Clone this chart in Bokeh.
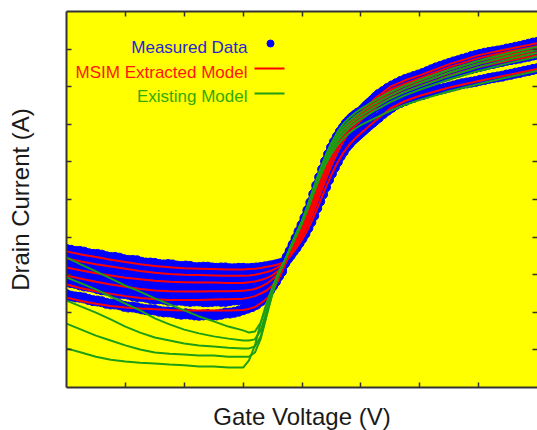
from bokeh.plotting import figure
from bokeh.models import FixedTicker, LinearAxis, Label
from bokeh.embed import file_html
from bokeh.resources import INLINE

# ---------------- data (arbitrary linear units, no tick labels in the original) ----------------
X_TICKS = [1, 2, 3, 4, 5, 6, 7]
Y_TICKS = [1, 2, 3, 4, 5, 6, 7, 8, 9]
X_LABEL = "Gate Voltage (V)"
Y_LABEL = "Drain Current (A)"

VG_MEAS = [0.0, 0.075, 0.15, 0.225, 0.3, 0.375, 0.45, 0.525, 0.6, 0.675, 0.75, 0.825, 0.9, 0.975, 1.05, 1.125, 1.2,
           1.275, 1.35, 1.425, 1.5, 1.575, 1.65, 1.725, 1.8, 1.875, 1.95, 2.025, 2.1, 2.175, 2.25, 2.325, 2.4, 2.475,
           2.55, 2.625, 2.7, 2.775, 2.85, 2.925, 3.0,
           3.075, 3.15, 3.225, 3.3, 3.375, 3.45, 3.5, 3.55, 3.6, 3.65,
           3.7, 3.75, 3.8, 3.85, 3.9, 3.95, 4.0, 4.05, 4.1, 4.15, 4.2, 4.25, 4.3, 4.35, 4.4, 4.45, 4.5, 4.55, 4.6, 4.65,
           4.7, 4.75, 4.8, 4.85, 4.9, 4.95,
           5.0, 5.05, 5.1, 5.15, 5.2, 5.25, 5.3, 5.375, 5.45, 5.525, 5.6, 5.675, 5.75, 5.825, 5.9, 5.975, 6.05, 6.125,
           6.2, 6.275, 6.35, 6.425, 6.5, 6.575, 6.65, 6.725, 6.8, 6.875, 6.95, 7.025, 7.1, 7.175, 7.25, 7.325, 7.4,
           7.475, 7.55, 7.625, 7.7, 7.775, 7.85, 7.925, 8.0]

MEAS_T1 = [3.67, 3.65, 3.62, 3.62, 3.60, 3.56, 3.54, 3.54, 3.52, 3.48, 3.46, 3.46, 3.44, 3.40, 3.38, 3.38, 3.37, 3.33, 3.31, 3.31,
           3.30, 3.27, 3.26, 3.27, 3.26, 3.23, 3.22, 3.23, 3.22, 3.19, 3.19, 3.20, 3.20, 3.18, 3.17, 3.18, 3.18, 3.16, 3.16, 3.17, 3.17,
           3.16, 3.17, 3.18, 3.19, 3.21, 3.23, 3.24, 3.26, 3.28, 3.30,
           3.32, 3.41, 3.51, 3.62, 3.72, 3.84, 3.96, 4.09, 4.24, 4.40, 4.57, 4.77, 4.95, 5.14, 5.33, 5.52, 5.69, 5.85, 6.00, 6.15,
           6.27, 6.39, 6.48, 6.57, 6.64, 6.71,
           6.78, 6.85, 6.92, 6.99, 7.05, 7.12, 7.18, 7.28, 7.37, 7.45, 7.53, 7.58, 7.63, 7.68, 7.72, 7.76, 7.79, 7.83, 7.87, 7.90,
           7.93, 7.96, 7.99, 8.02, 8.05, 8.08, 8.10, 8.12, 8.14, 8.17, 8.19, 8.22, 8.24, 8.26, 8.28, 8.31, 8.33, 8.36, 8.38, 8.41,
           8.43, 8.46, 8.48]
MEAS_T2 = [3.46, 3.43, 3.41, 3.40, 3.38, 3.34, 3.32, 3.31, 3.30, 3.26, 3.24, 3.23, 3.22, 3.19, 3.17, 3.16, 3.15, 3.12, 3.10, 3.10,
           3.09, 3.06, 3.04, 3.05, 3.04, 3.01, 3.00, 3.01, 3.00, 2.98, 2.97, 2.98, 2.98, 2.96, 2.95, 2.96, 2.96, 2.94, 2.94, 2.95, 2.96,
           2.96, 2.96, 2.97, 2.99, 3.02, 3.06, 3.09, 3.13, 3.17, 3.22,
           3.32, 3.43, 3.54, 3.66, 3.78, 3.92, 4.05, 4.20, 4.36, 4.54, 4.72, 4.93, 5.13, 5.34, 5.54, 5.74, 5.93, 6.11, 6.27, 6.43,
           6.57, 6.70, 6.81, 6.91, 6.99, 7.07,
           7.14, 7.21, 7.28, 7.35, 7.41, 7.47, 7.53, 7.60, 7.67, 7.73, 7.79, 7.84, 7.89, 7.93, 7.97, 8.01, 8.05, 8.10, 8.14, 8.19,
           8.24, 8.28, 8.31, 8.35, 8.38, 8.42, 8.45, 8.48, 8.51, 8.54, 8.57, 8.60, 8.62, 8.65, 8.67, 8.70, 8.72, 8.74, 8.76, 8.79,
           8.81, 8.84, 8.86]
MEAS_T3 = [3.24, 3.21, 3.20, 3.16, 3.14, 3.13, 3.11, 3.07, 3.05, 3.05, 3.03, 2.99, 2.97, 2.97, 2.95, 2.92, 2.90, 2.90, 2.88, 2.85,
           2.83, 2.84, 2.83, 2.80, 2.79, 2.80, 2.79, 2.77, 2.76, 2.77, 2.77, 2.75, 2.74, 2.75, 2.75, 2.73, 2.73, 2.74, 2.75, 2.73, 2.74,
           2.75, 2.77, 2.79, 2.82, 2.87, 2.93, 2.98, 3.03, 3.09, 3.16,
           3.31, 3.44, 3.56, 3.70, 3.83, 3.98, 4.12, 4.28, 4.45, 4.64, 4.83, 5.05, 5.25, 5.46, 5.67, 5.87, 6.06, 6.23, 6.39, 6.55,
           6.68, 6.80, 6.90, 6.99, 7.07, 7.14,
           7.21, 7.28, 7.35, 7.42, 7.48, 7.54, 7.60, 7.68, 7.75, 7.81, 7.87, 7.92, 7.97, 8.01, 8.05, 8.09, 8.13, 8.17, 8.22, 8.27,
           8.32, 8.36, 8.39, 8.43, 8.46, 8.50, 8.53, 8.56, 8.59, 8.62, 8.65, 8.68, 8.70, 8.73, 8.75, 8.78, 8.80, 8.82, 8.84, 8.87,
           8.89, 8.92, 8.94]
MEAS_T4 = [3.03, 3.00, 2.97, 2.96, 2.94, 2.90, 2.87, 2.86, 2.85, 2.81, 2.78, 2.78, 2.76, 2.72, 2.70, 2.70, 2.68, 2.64, 2.62, 2.62,
           2.61, 2.58, 2.57, 2.58, 2.57, 2.55, 2.54, 2.55, 2.55, 2.53, 2.52, 2.53, 2.53, 2.51, 2.51, 2.52, 2.53, 2.51, 2.52, 2.54, 2.55,
           2.55, 2.57, 2.60, 2.64, 2.71, 2.79, 2.86, 2.93, 3.02, 3.11,
           3.31, 3.45, 3.58, 3.73, 3.87, 4.03, 4.18, 4.35, 4.53, 4.73, 4.93, 5.15, 5.36, 5.57, 5.78, 5.98, 6.17, 6.34, 6.49, 6.64,
           6.76, 6.88, 6.97, 7.06, 7.13, 7.20,
           7.26, 7.34, 7.41, 7.48, 7.54, 7.60, 7.66, 7.74, 7.82, 7.88, 7.94, 7.99, 8.04, 8.08, 8.12, 8.16, 8.20, 8.25, 8.30, 8.35,
           8.40, 8.44, 8.47, 8.51, 8.54, 8.58, 8.61, 8.64, 8.67, 8.70, 8.73, 8.76, 8.78, 8.81, 8.83, 8.85, 8.87, 8.90, 8.92, 8.95,
           8.97, 9.00, 9.02]
MEAS_T5 = [2.82, 2.79, 2.77, 2.73, 2.70, 2.69, 2.67, 2.63, 2.60, 2.59, 2.57, 2.53, 2.50, 2.50, 2.48, 2.44, 2.42, 2.42, 2.40, 2.37,
           2.35, 2.36, 2.35, 2.32, 2.31, 2.32, 2.32, 2.30, 2.29, 2.30, 2.30, 2.28, 2.28, 2.29, 2.30, 2.29, 2.29, 2.31, 2.33, 2.33, 2.34,
           2.36, 2.40, 2.44, 2.50, 2.59, 2.69, 2.77, 2.86, 2.97, 3.08,
           3.30, 3.46, 3.60, 3.76, 3.91, 4.08, 4.24, 4.42, 4.61, 4.81, 5.02, 5.25, 5.46, 5.67, 5.88, 6.08, 6.26, 6.42, 6.57, 6.71,
           6.83, 6.94, 7.03, 7.11, 7.18, 7.25,
           7.31, 7.39, 7.46, 7.53, 7.59, 7.66, 7.72, 7.80, 7.88, 7.94, 8.00, 8.05, 8.10, 8.14, 8.18, 8.22, 8.26, 8.31, 8.36, 8.41,
           8.46, 8.50, 8.54, 8.58, 8.61, 8.65, 8.68, 8.72, 8.75, 8.78, 8.81, 8.84, 8.86, 8.88, 8.90, 8.93, 8.95, 8.98, 9.00, 9.03,
           9.05, 9.08, 9.10]
MEAS_T6 = [2.47, 2.43, 2.41, 2.40, 2.38, 2.34, 2.31, 2.30, 2.28, 2.24, 2.22, 2.22, 2.20, 2.16, 2.14, 2.14, 2.12, 2.09, 2.07, 2.07,
           2.06, 2.03, 2.01, 2.01, 2.00, 1.97, 1.95, 1.96, 1.95, 1.93, 1.92, 1.93, 1.94, 1.92, 1.93, 1.95, 1.98, 1.98, 2.00, 2.03, 2.07,
           2.11, 2.15, 2.21, 2.30, 2.43, 2.58, 2.70, 2.82, 2.96, 3.10,
           3.30, 3.47, 3.63, 3.80, 3.97, 4.15, 4.32, 4.51, 4.71, 4.92, 5.14, 5.37, 5.59, 5.80, 6.01, 6.20, 6.38, 6.53, 6.67, 6.80,
           6.91, 7.02, 7.10, 7.18, 7.24, 7.30,
           7.34, 7.42, 7.50, 7.57, 7.64, 7.72, 7.79, 7.87, 7.95, 8.02, 8.08, 8.14, 8.19, 8.23, 8.27, 8.31, 8.35, 8.40, 8.45, 8.50,
           8.54, 8.58, 8.62, 8.66, 8.69, 8.73, 8.76, 8.80, 8.83, 8.86, 8.89, 8.91, 8.93, 8.95, 8.97, 9.00, 9.02, 9.05, 9.07, 9.10,
           9.13, 9.16, 9.18]

VG_MODEL = [0.0, 0.25, 0.5, 0.75, 1.0, 1.25, 1.5, 1.75, 2.0, 2.25, 2.5, 2.75, 3.0,
            3.1, 3.2, 3.3, 3.4, 3.5, 3.6, 3.7,
            3.8, 3.9, 4.0, 4.1, 4.2, 4.3, 4.4, 4.5, 4.6, 4.7, 4.8, 4.9, 5.0,
            5.25, 5.5, 5.75, 6.0, 6.5, 7.0, 7.5, 8.0]

MSIM_T1 = [3.62, 3.54, 3.47, 3.40, 3.34, 3.28, 3.23, 3.20, 3.17, 3.16, 3.15, 3.14, 3.14,
           3.15, 3.16, 3.18, 3.21, 3.24, 3.28, 3.33,
           3.49, 3.70, 3.93, 4.21, 4.54, 4.92, 5.30, 5.66, 5.97, 6.24, 6.45, 6.62, 6.76,
           7.10, 7.42, 7.62, 7.76, 7.98, 8.15, 8.31, 8.47]
MSIM_T2 = [3.43, 3.35, 3.28, 3.22, 3.16, 3.10, 3.05, 3.02, 3.00, 2.99, 2.98, 2.97, 2.97,
           2.98, 3.00, 3.03, 3.07, 3.12, 3.20, 3.31,
           3.52, 3.76, 4.02, 4.33, 4.69, 5.10, 5.51, 5.90, 6.24, 6.54, 6.78, 6.96, 7.11,
           7.45, 7.70, 7.87, 8.01, 8.29, 8.52, 8.69, 8.84]
MSIM_T3 = [3.19, 3.11, 3.04, 2.98, 2.92, 2.88, 2.84, 2.81, 2.80, 2.79, 2.79, 2.78, 2.78,
           2.80, 2.82, 2.86, 2.91, 2.99, 3.11, 3.28,
           3.54, 3.80, 4.09, 4.42, 4.80, 5.22, 5.64, 6.03, 6.36, 6.65, 6.87, 7.04, 7.18,
           7.52, 7.78, 7.95, 8.09, 8.37, 8.60, 8.77, 8.92]
MSIM_T4 = [2.98, 2.89, 2.81, 2.74, 2.68, 2.62, 2.58, 2.56, 2.55, 2.55, 2.56, 2.56, 2.57,
           2.59, 2.62, 2.68, 2.76, 2.88, 3.04, 3.26,
           3.56, 3.84, 4.15, 4.50, 4.90, 5.33, 5.75, 6.14, 6.46, 6.73, 6.94, 7.10, 7.23,
           7.58, 7.85, 8.02, 8.16, 8.45, 8.68, 8.85, 9.00]
MSIM_T5 = [2.74, 2.64, 2.56, 2.49, 2.43, 2.38, 2.35, 2.33, 2.33, 2.33, 2.34, 2.35, 2.36,
           2.39, 2.43, 2.50, 2.58, 2.72, 2.96, 3.24,
           3.58, 3.88, 4.21, 4.58, 4.99, 5.43, 5.85, 6.23, 6.54, 6.80, 7.00, 7.15, 7.28,
           7.64, 7.92, 8.08, 8.22, 8.52, 8.76, 8.93, 9.08]
MSIM_T6 = [2.39, 2.30, 2.23, 2.17, 2.13, 2.10, 2.08, 2.06, 2.05, 2.05, 2.05, 2.05, 2.06,
           2.09, 2.14, 2.24, 2.36, 2.56, 2.86, 3.22,
           3.60, 3.94, 4.29, 4.68, 5.11, 5.56, 5.98, 6.35, 6.64, 6.88, 7.07, 7.21, 7.32,
           7.70, 8.00, 8.17, 8.30, 8.60, 8.84, 9.00, 9.16]

EXIST_1 = [3.46, 3.27, 3.09, 2.90, 2.71, 2.55, 2.37, 2.21, 2.05, 1.89, 1.76, 1.62, 1.52,
           1.46, 1.49, 1.73, 2.18, 2.66, 3.06, 3.35,
           3.68, 4.02, 4.36, 4.75, 5.17, 5.57, 5.93, 6.22, 6.45, 6.62, 6.76, 6.88, 6.98,
           7.17, 7.36, 7.52, 7.65, 7.88, 8.07, 8.25, 8.42]
EXIST_2 = [2.93, 2.77, 2.61, 2.42, 2.23, 2.05, 1.84, 1.68, 1.54, 1.44, 1.36, 1.30, 1.25,
           1.25, 1.28, 1.52, 2.05, 2.58, 3.03, 3.35,
           3.70, 4.04, 4.38, 4.78, 5.21, 5.62, 5.99, 6.30, 6.55, 6.74, 6.90, 7.03, 7.14,
           7.38, 7.59, 7.77, 7.92, 8.19, 8.42, 8.62, 8.80]
EXIST_3 = [2.31, 2.15, 1.99, 1.81, 1.62, 1.46, 1.33, 1.25, 1.17, 1.12, 1.09, 1.06, 1.04,
           1.04, 1.09, 1.36, 1.94, 2.53, 3.01, 3.35,
           3.71, 4.06, 4.40, 4.81, 5.25, 5.67, 6.05, 6.37, 6.63, 6.83, 6.99, 7.12, 7.23,
           7.47, 7.68, 7.86, 8.01, 8.28, 8.52, 8.72, 8.90]
EXIST_4 = [1.70, 1.54, 1.38, 1.25, 1.12, 1.01, 0.93, 0.90, 0.88, 0.85, 0.85, 0.82, 0.82,
           0.82, 0.93, 1.30, 1.91, 2.50, 2.98, 3.35,
           3.72, 4.08, 4.42, 4.84, 5.29, 5.72, 6.11, 6.44, 6.71, 6.92, 7.08, 7.21, 7.32,
           7.56, 7.77, 7.95, 8.10, 8.37, 8.61, 8.81, 8.98]
EXIST_5 = [1.04, 0.93, 0.82, 0.74, 0.69, 0.66, 0.64, 0.61, 0.59, 0.56, 0.56, 0.53, 0.53,
           0.72, 1.12, 1.73, 2.26, 2.66, 3.03, 3.32,
           3.73, 4.10, 4.44, 4.87, 5.33, 5.77, 6.17, 6.51, 6.79, 7.01, 7.17, 7.30, 7.41,
           7.65, 7.86, 8.03, 8.18, 8.45, 8.69, 8.89, 9.06]

LEGEND_LABELS = ["Measured Data", "MSIM Extracted Model", "Existing Model"]

MEAS = [MEAS_T1, MEAS_T2, MEAS_T3, MEAS_T4, MEAS_T5, MEAS_T6]
MSIM = [MSIM_T1, MSIM_T2, MSIM_T3, MSIM_T4, MSIM_T5, MSIM_T6]
EXIST = [EXIST_1, EXIST_2, EXIST_3, EXIST_4, EXIST_5]

# ---------------- styling ----------------
BLUE = "#0000ff"
RED = "#ff0000"
GREEN = "#1e9e14"
BLUE_TXT = "#2626d6"
RED_TXT = "#ff1414"
GREEN_TXT = "#33aa00"
FONT = "Liberation Sans"
X0, X1, Y0, Y1 = 0, 8, 0, 10
FRAME_W, FRAME_H = 471, 376

p = figure(frame_width=FRAME_W, frame_height=FRAME_H, x_range=(X0, X1), y_range=(Y0, Y1),
           output_backend="svg", toolbar_location=None,
           min_border_left=66, min_border_right=0, min_border_top=11, min_border_bottom=43)
p.background_fill_color = "#ffff00"
p.border_fill_color = "white"
p.outline_line_color = None
p.grid.visible = False


def style_axis(ax, line=True):
    ax.major_tick_in = 5
    ax.major_tick_out = 0
    ax.minor_tick_line_color = None
    ax.major_tick_line_color = "#333333"
    ax.major_tick_line_width = 1.5
    ax.major_label_text_font_size = "0px"
    ax.major_label_text_color = None
    ax.major_label_standoff = 0
    ax.axis_line_color = "#333333" if line else None
    ax.axis_line_width = 2


p.xaxis.ticker = FixedTicker(ticks=X_TICKS)
p.yaxis.ticker = FixedTicker(ticks=Y_TICKS)
for ax in (p.xaxis[0], p.yaxis[0]):
    style_axis(ax)
    ax.axis_label_text_font = FONT
    ax.axis_label_text_font_size = "24px"
    ax.axis_label_text_font_style = "normal"
    ax.axis_label_text_color = "#1a1a1a"
p.xaxis.axis_label = X_LABEL
p.yaxis.axis_label = Y_LABEL
p.xaxis.axis_label_standoff = 15
p.yaxis.axis_label_standoff = 33

top_ax = LinearAxis(ticker=FixedTicker(ticks=X_TICKS))
style_axis(top_ax)
p.add_layout(top_ax, "above")
right_ax = LinearAxis(ticker=FixedTicker(ticks=Y_TICKS))
style_axis(right_ax, line=False)
p.add_layout(right_ax, "right")

# measured data
for ys in MEAS:
    p.scatter(VG_MEAS, ys, size=10, fill_color=BLUE, line_color=BLUE)
# models
for ys in MSIM:
    p.line(VG_MODEL, ys, line_color=RED, line_width=2)
for ys in EXIST:
    p.line(VG_MODEL, ys, line_color=GREEN, line_width=2)

# ---------------- legend (pixel offsets from the frame's top-left corner) ----------------
px_x = (X1 - X0) / FRAME_W
px_y = (Y1 - Y0) / FRAME_H
LEG_TEXT_RIGHT = 181
LEG_BASELINES = [36, 61, 85]
LEG_MARK_ROWS = [32, 57, 82]
LEG_MARK_X = (188, 218)
txt_colors = [BLUE_TXT, RED_TXT, GREEN_TXT]


def lx(px):
    return X0 + px * px_x


def ly(py):
    return Y1 - py * px_y


for lab, b, col in zip(LEGEND_LABELS, LEG_BASELINES, txt_colors):
    p.add_layout(Label(x=lx(LEG_TEXT_RIGHT), y=ly(b), text=lab, text_align="right",
                       text_baseline="alphabetic", text_font=FONT,
                       text_font_size="17px", text_color=col))
p.scatter([lx((LEG_MARK_X[0] + LEG_MARK_X[1]) / 2 + 1)], [ly(LEG_MARK_ROWS[0])], size=7,
          fill_color=BLUE, line_color=BLUE)
p.line([lx(LEG_MARK_X[0]), lx(LEG_MARK_X[1])], [ly(LEG_MARK_ROWS[1])] * 2, line_color=RED, line_width=2)
p.line([lx(LEG_MARK_X[0]), lx(LEG_MARK_X[1])], [ly(LEG_MARK_ROWS[2])] * 2, line_color=GREEN, line_width=2)

open("out.html", "w").write(file_html(p, INLINE))
